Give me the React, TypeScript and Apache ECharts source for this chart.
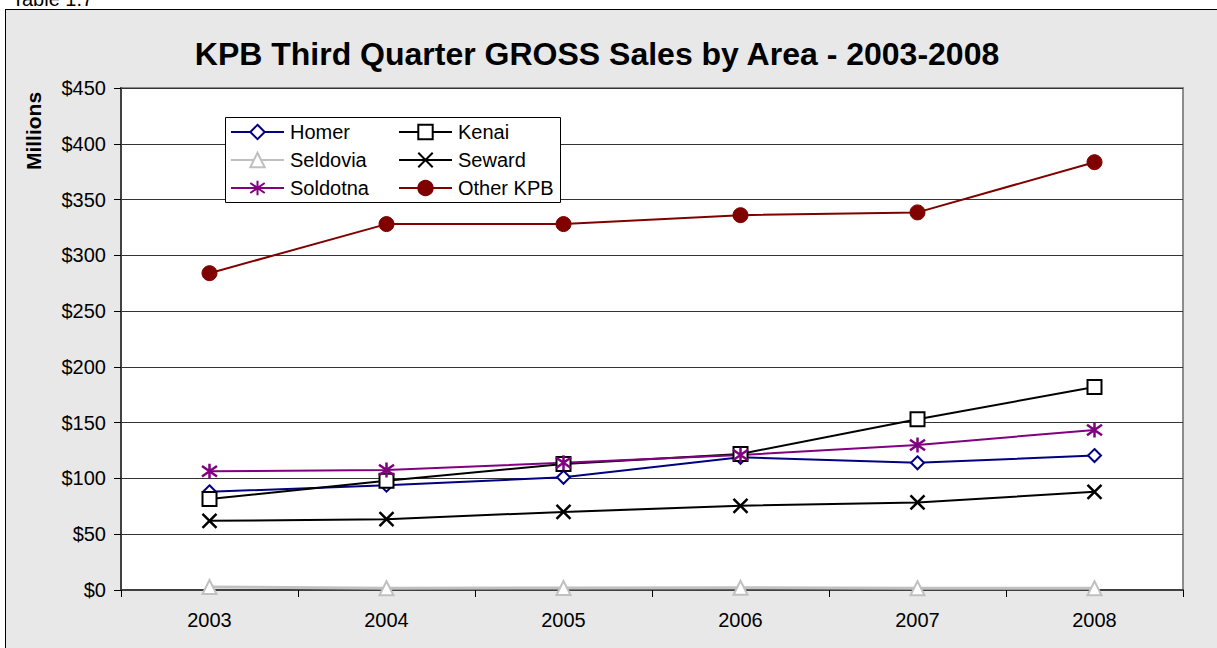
import React, { useEffect, useRef } from "react";
import * as echarts from "echarts";

const years = ["2003", "2004", "2005", "2006", "2007", "2008"];
const homer = [88, 94, 101, 119, 114, 120.5];
const kenai = [81.5, 98, 113, 122, 153, 182];
const seldovia = [2.7, 1.6, 1.8, 2.0, 1.6, 1.6];
const seward = [62, 63.5, 70, 75.5, 78.5, 88];
const soldotna = [106.5, 107.5, 114, 121, 130, 143.5];
const otherKpb = [284, 328, 328, 336, 338.5, 383.5];

const titleText = "KPB Third Quarter GROSS Sales by Area - 2003-2008";
const yAxisName = "Millions";
const tableLabel = "Table 1.7";

const FONT = "Liberation Sans, Arial, sans-serif";

export default function App() {
  const ref = useRef<HTMLDivElement>(null);
  useEffect(() => {
    if (!ref.current) return;
    const chart = echarts.init(ref.current, null, { renderer: "svg" });
    const lw = 2;
    const legendBase = {
      orient: "vertical",
      top: 122,
      padding: 0,
      itemWidth: 53,
      itemHeight: 18,
      itemGap: 8,
      textStyle: { color: "#000", fontSize: 20, fontFamily: FONT, lineHeight: 20, padding: [0, 0, 0, 1] },
      selectedMode: false,
      z: 10,
    };
    const option: any = {
      animation: false,
      backgroundColor: "transparent",
      textStyle: { fontFamily: FONT },
      grid: {
        left: 121,
        right: 34,
        top: 88,
        bottom: 58,
        show: true,
        backgroundColor: "#ffffff",
        borderColor: "#8c8c8c",
        borderWidth: 2,
      },
      xAxis: {
        type: "category",
        data: years,
        boundaryGap: true,
        axisLine: { lineStyle: { color: "#404040", width: 2 } },
        axisTick: { show: true, length: 7, lineStyle: { color: "#000", width: 1 } },
        axisLabel: { color: "#000", fontSize: 20, fontFamily: FONT, margin: 20 },
        splitLine: { show: false },
      },
      yAxis: {
        type: "value",
        min: 0,
        max: 450,
        interval: 50,
        axisLine: { show: true, lineStyle: { color: "#404040", width: 2 } },
        axisTick: { show: true, length: 7, lineStyle: { color: "#000", width: 1 } },
        axisLabel: {
          color: "#000",
          fontSize: 20,
          fontFamily: FONT,
          margin: 15,
          formatter: (v: number) => "$" + v,
        },
        splitLine: { show: true, lineStyle: { color: "#333", width: 1 } },
      },
      legend: [
        { ...legendBase, left: 230, data: ["Homer", "Seldovia", "Soldotna"] },
        { ...legendBase, left: 398, data: ["Kenai", "Seward", "Other KPB"] },
      ],
      graphic: [
        {
          type: "rect",
          z: 3,
          shape: { x: 225.5, y: 117.5, width: 335, height: 85 },
          style: { fill: "#ffffff", stroke: "#000", lineWidth: 1 },
        },
        {
          type: "text",
          x: 597,
          y: 54,
          z: 10,
          style: {
            text: titleText,
            fill: "#000",
            font: "bold 32px " + FONT,
            textAlign: "center",
            textVerticalAlign: "middle",
          },
        },
        {
          type: "text",
          x: 33,
          y: 131,
          rotation: Math.PI / 2,
          z: 10,
          style: {
            text: yAxisName,
            fill: "#000",
            font: "bold 21px " + FONT,
            textAlign: "center",
            textVerticalAlign: "middle",
          },
        },
        {
          type: "text",
          x: 12,
          y: 9,
          z: 10,
          style: {
            text: tableLabel,
            fill: "#000",
            font: "20px " + FONT,
            textAlign: "left",
            textVerticalAlign: "bottom",
          },
        },
      ],
      series: [
        {
          name: "Homer",
          type: "line",
          data: homer,
          symbol: "diamond",
          symbolSize: 13,
          lineStyle: { color: "#000080", width: lw },
          itemStyle: { color: "#ffffff", borderColor: "#000080", borderWidth: 2 },
          z: 2,
        },
        {
          name: "Kenai",
          type: "line",
          data: kenai,
          symbol: "rect",
          symbolSize: 14,
          lineStyle: { color: "#000000", width: lw },
          itemStyle: { color: "#ffffff", borderColor: "#000000", borderWidth: 2 },
          z: 2,
        },
        {
          name: "Seldovia",
          type: "line",
          data: seldovia,
          symbol: "triangle",
          symbolSize: 14,
          lineStyle: { color: "#c0c0c0", width: 3 },
          itemStyle: { color: "#ffffff", borderColor: "#c0c0c0", borderWidth: 2 },
          z: 2,
        },
        {
          name: "Seward",
          type: "line",
          data: seward,
          symbol: "path://M0,0L10,10M10,0L0,10",
          symbolSize: 14,
          lineStyle: { color: "#000000", width: lw },
          itemStyle: { color: "#000000", borderColor: "#000000", borderWidth: 2.5 },
          z: 2,
        },
        {
          name: "Soldotna",
          type: "line",
          data: soldotna,
          symbol: "path://M5,0L5,10M0,1.5L10,8.5M10,1.5L0,8.5",
          symbolSize: 15,
          lineStyle: { color: "#800080", width: lw },
          itemStyle: { color: "#800080", borderColor: "#800080", borderWidth: 2.5 },
          z: 2,
        },
        {
          name: "Other KPB",
          type: "line",
          data: otherKpb,
          symbol: "circle",
          symbolSize: 15,
          lineStyle: { color: "#800000", width: lw },
          itemStyle: { color: "#800000", borderColor: "#800000", borderWidth: 1 },
          z: 2,
        },
      ],
    };
    chart.setOption(option);
    return () => {
      chart.dispose();
    };
  }, []);

  return (
    <div style={{ position: "absolute", left: 0, top: 0, width: 1217, height: 648, background: "#ffffff", overflow: "hidden" }}>
      <div
        style={{
          position: "absolute",
          left: 5,
          top: 9,
          width: 1230,
          height: 660,
          background: "#e8e8e8",
          borderLeft: "1px solid #000",
          borderTop: "1px solid #000",
        }}
      />
      <div ref={ref} style={{ position: "absolute", left: 0, top: 0, width: 1217, height: 648 }} />
    </div>
  );
}
